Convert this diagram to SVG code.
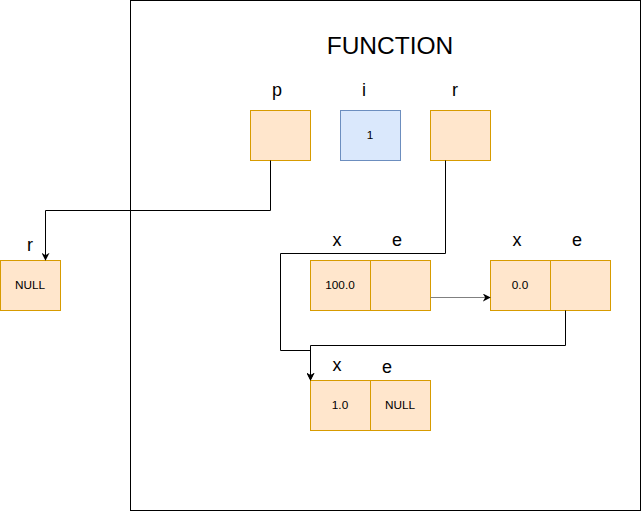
<svg xmlns="http://www.w3.org/2000/svg" width="641" height="511" viewBox="0 0 641 511">
<style>
.o{fill:#ffe6cc;stroke:#d79b00;stroke-width:1}
.b{fill:#dae8fc;stroke:#6c8ebf;stroke-width:1}
.t{font-family:"Liberation Sans",Arial,sans-serif;font-size:11.8px;fill:#000;text-anchor:middle;dominant-baseline:central}
.l{font-family:"Liberation Sans",Arial,sans-serif;font-size:18px;fill:#000;text-anchor:middle;dominant-baseline:central}
.c{fill:none;stroke:#000;stroke-width:1}
</style>
<defs>
<marker id="a" viewBox="0 0 10 10" refX="9" refY="5" markerWidth="8" markerHeight="8" orient="auto" markerUnits="userSpaceOnUse">
<path d="M0,0 L10,5 L0,10 L3,5 Z" fill="#000"/>
</marker>
</defs>
<rect width="641" height="511" fill="#fff"/>
<g id="frame">
<rect x="130.5" y="0.5" width="510" height="510" fill="none" stroke="#000"/>
<text class="l" x="390" y="45" style="font-size:24.5px">FUNCTION</text>
</g>
<g id="p">
<text class="l" x="277" y="90">p</text>
<rect class="o" x="250.5" y="110.5" width="60" height="50"/>
</g>
<g id="i">
<text class="l" x="364" y="90">i</text>
<rect class="b" x="340.5" y="110.5" width="60" height="50"/>
<text class="t" x="370" y="135">1</text>
</g>
<g id="r">
<text class="l" x="455" y="90">r</text>
<rect class="o" x="430.5" y="110.5" width="60" height="50"/>
</g>
<g id="rnull">
<text class="l" x="30" y="245">r</text>
<rect class="o" x="0.5" y="260.5" width="60" height="50"/>
<text class="t" x="30" y="285">NULL</text>
</g>
<g id="node1">
<text class="l" x="337" y="240">x</text>
<text class="l" x="397" y="240">e</text>
<rect class="o" x="310.5" y="260.5" width="60" height="50"/>
<rect class="o" x="370.5" y="260.5" width="60" height="50"/>
<text class="t" x="340" y="285">100.0</text>
</g>
<g id="node2">
<text class="l" x="517" y="240">x</text>
<text class="l" x="577" y="240">e</text>
<rect class="o" x="490.5" y="260.5" width="60" height="50"/>
<rect class="o" x="550.5" y="260.5" width="60" height="50"/>
<text class="t" x="520" y="285">0.0</text>
</g>
<g id="node3">
<text class="l" x="337" y="365">x</text>
<text class="l" x="387" y="367">e</text>
<rect class="o" x="310.5" y="380.5" width="60" height="50"/>
<rect class="o" x="370.5" y="380.5" width="60" height="50"/>
<text class="t" x="340" y="405">1.0</text>
<text class="t" x="400" y="405">NULL</text>
</g>
<g id="connectors">
<path class="c" d="M270.5,160.5 V210.5 H45.5 V260" marker-end="url(#a)"/>
<path class="c" d="M445.5,160.5 V253.5 H280.5 V350.5 H310.5 V380" marker-end="url(#a)"/>
<path class="c" d="M565.5,310.5 V345.5 H310.5 V380" marker-end="url(#a)"/>
<path class="c" d="M430.5,297.5 H490" style="stroke:#808080" marker-end="url(#a)"/>
</g>
</svg>
